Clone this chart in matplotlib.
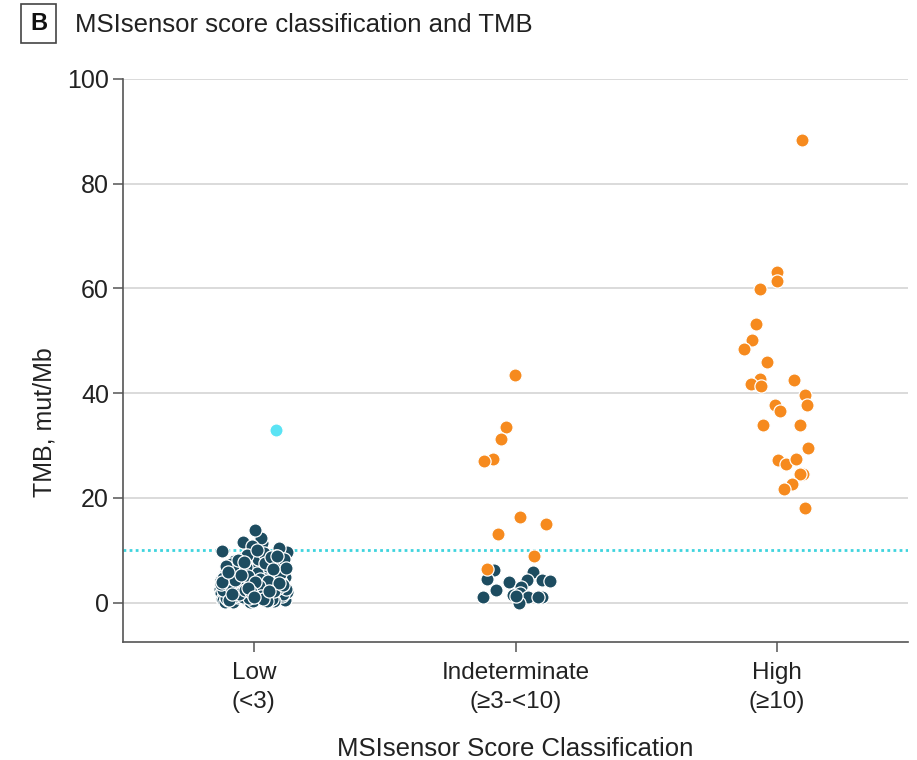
import numpy as np
import matplotlib.pyplot as plt
from matplotlib.patches import Rectangle

plt.rcParams['font.family'] = ['Liberation Sans', 'DejaVu Sans']

categories = ["Low\n(<3)", "Indeterminate\n(\u22653-<10)", "High\n(\u226510)"]

# TMB values per MSIsensor class, mut/Mb
low_tmb = [
    2.6, 0.8, 4.1, 1.5, 6.3, 3.2, 0.4, 5.0, 2.1, 7.4,
    1.1, 3.8, 0.6, 4.7, 2.9, 8.2, 1.8, 5.6, 0.3, 3.5,
    6.9, 2.4, 1.2, 4.4, 0.9, 7.8, 3.0, 5.3, 1.6, 2.2,
    9.1, 0.5, 4.9, 3.6, 1.9, 6.0, 2.7, 0.7, 5.8, 3.3,
    1.4, 8.6, 2.0, 4.2, 0.2, 6.6, 3.9, 1.0, 5.1, 2.5,
    7.1, 1.3, 3.4, 0.6, 4.6, 9.6, 2.8, 1.7, 5.5, 0.4,
    3.1, 6.4, 2.3, 0.9, 4.0, 7.6, 1.5, 3.7, 0.8, 5.2,
    2.2, 10.5, 1.1, 4.5, 3.0, 6.1, 0.5, 2.6, 8.0, 1.9,
    4.8, 3.5, 0.3, 5.9, 2.1, 1.2, 7.3, 3.8, 0.7, 4.3,
    11.4, 2.4, 1.6, 6.7, 3.2, 0.4, 5.4, 2.0, 9.3, 1.0,
    4.1, 3.6, 0.6, 6.2, 2.7, 1.4, 8.8, 3.9, 0.9, 5.0,
    2.3, 12.3, 1.8, 4.6, 3.1, 0.2, 7.0, 2.5, 1.3, 5.7,
    3.4, 0.8, 4.4, 9.9, 2.9, 1.5, 6.5, 3.7, 0.5, 2.2,
    11.5, 4.9, 1.1, 3.3, 7.9, 0.7, 5.3, 2.6, 1.7, 4.0,
    13.9, 3.0, 0.4, 6.8, 2.0, 1.2, 5.6, 3.5, 10.9, 0.9,
    4.2, 2.8, 1.6, 8.4, 3.8, 0.3, 5.1, 2.4, 9.5, 1.0,
    6.0, 1.9, 3.3, 0.6, 7.7, 2.7, 4.5, 1.3, 8.9, 0.2,
    5.4, 3.0, 1.8, 6.9, 2.1, 4.8, 0.7, 9.2, 3.6, 1.5,
    7.2, 2.9, 0.4, 5.8, 4.1, 1.1, 8.3, 3.1, 6.2, 2.3,
    0.9, 4.7, 7.5, 1.7, 5.5, 3.9, 0.5, 8.7, 2.5, 6.6,
    1.2, 4.3, 9.0, 2.0, 7.0, 0.3, 5.2, 3.4, 10.1, 1.6,
    6.4, 2.8, 4.0, 0.8, 8.1, 3.7, 1.0, 5.9, 2.2, 7.8,
]
low_outlier_tmb = [33.0]
low_outlier_jitter = [0.084]

ind_dark_tmb = [6.2, 4.6, 3.9, 5.9, 4.3, 4.3, 4.2, 2.5, 3.0, 1.0,
                1.5, 1.8, 1.0, 1.0, 1.0, 0.0, 1.2]
ind_dark_jitter = [-0.083, -0.108, -0.026, 0.068, 0.045, 0.101, 0.131, -0.073,
                   0.022, -0.125, -0.009, 0.019, 0.049, 0.100, 0.087, 0.014, 0.0]
ind_orange_tmb = [43.4, 33.6, 31.2, 27.4, 27.0, 16.4, 15.1, 13.2, 9.0, 6.5]
ind_orange_jitter = [-0.003, -0.036, -0.056, -0.087, -0.120, 0.019, 0.118,
                     -0.068, 0.069, -0.110]

high_tmb = [88.4, 63.2, 61.5, 59.9, 53.3, 50.1, 48.4, 45.9, 42.5, 42.7,
            41.7, 41.3, 39.7, 37.7, 37.8, 36.6, 34.0, 34.0, 29.6, 27.2,
            26.5, 27.4, 24.6, 24.6, 22.7, 21.7, 18.1]
high_jitter = [0.095, -0.001, -0.001, -0.065, -0.082, -0.098, -0.126, -0.039,
               0.066, -0.065, -0.101, -0.060, 0.108, 0.114, -0.008, 0.010,
               -0.054, 0.089, 0.118, 0.004, 0.032, 0.072, 0.100, 0.088,
               0.056, 0.028, 0.108]

threshold = 10

DARK = "#1d4c60"
ORANGE = "#f68a1e"
CYAN = "#5ae3f4"

fig = plt.figure(figsize=(9.17, 7.6), dpi=100)
ax = fig.add_axes([123 / 917, 1 - 642 / 760, (908 - 123) / 917, (642 - 79) / 760])

# deterministic spread for the dense low group
n = len(low_tmb)
low_x = 0 + ((np.arange(n) * 0.618034) % 1 - 0.5) * 0.255

dot = dict(s=90, edgecolors="white", linewidths=0.9, zorder=3)
ax.scatter(low_x, low_tmb, color=DARK, **dot)
ax.scatter(0 + np.array(low_outlier_jitter), low_outlier_tmb, color=CYAN, **dot)
ax.scatter(1 + np.array(ind_dark_jitter), ind_dark_tmb, color=DARK, **dot)
ax.scatter(1 + np.array(ind_orange_jitter), ind_orange_tmb, color=ORANGE, **dot)
ax.scatter(2 + np.array(high_jitter), high_tmb, color=ORANGE, **dot)

ax.axhline(threshold, color="#3fd4de", lw=2.0, ls=(0, (1, 1.2)), zorder=2)

ax.set_xlim(-0.5, 2.5)
ax.set_ylim(-7.5, 100)
ax.set_yticks([0, 20, 40, 60, 80, 100])
ax.set_xticks(range(len(categories)))
ax.set_xticklabels(categories, fontsize=17.5, color="#222222", linespacing=1.4)
ax.tick_params(axis="y", labelsize=18, length=7, width=1.1, color="#555555",
               pad=3, labelcolor="#222222")
ax.tick_params(axis="x", length=7.5, width=1.1, color="#555555", pad=7)

ax.yaxis.grid(True, color="#d4d4d4", lw=1.2, zorder=0)
ax.set_axisbelow(True)
for side in ["top", "right"]:
    ax.spines[side].set_visible(False)
for side in ["left", "bottom"]:
    ax.spines[side].set_color("#555555")
    ax.spines[side].set_linewidth(1.2)

ax.set_xlabel("MSIsensor Score Classification", fontsize=18.5, color="#222222",
              labelpad=17)
ax.set_ylabel("TMB, mut/Mb", fontsize=18, color="#222222")
ax.yaxis.set_label_coords(-0.085, 0.39)

# panel letter and title
fig.add_artist(Rectangle((21 / 917, 1 - 43 / 760), 35 / 917, 39 / 760,
                         transform=fig.transFigure, fill=False,
                         ec="#444444", lw=1.2))
fig.text(38.5 / 917, 1 - 24 / 760, "B", fontsize=17, fontweight="bold",
         ha="center", va="center", color="#111111")
fig.text(75 / 917, 1 - 25 / 760, "MSIsensor score classification and TMB",
         fontsize=18.5, ha="left", va="center", color="#222222")

fig.savefig("out.png", dpi=100)
